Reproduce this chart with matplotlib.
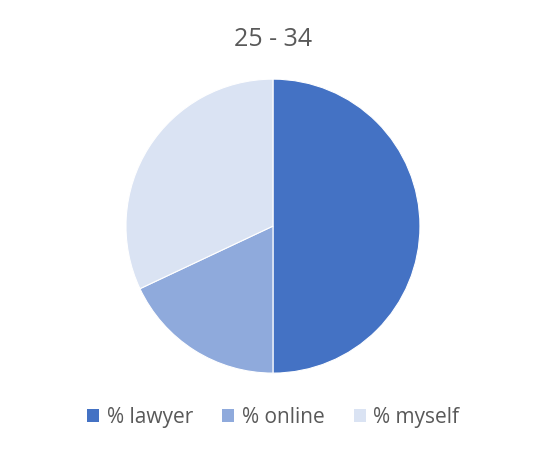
import matplotlib
matplotlib.use("Agg")
import matplotlib.pyplot as plt
from matplotlib.patches import Patch

title = "25 - 34"
labels = ["% lawyer", "% online", "% myself"]
values = [50, 18, 32]
colors = ["#4472C4", "#8FAADC", "#DAE3F3"]

plt.rcParams['font.family'] = ['Open Sans', 'DejaVu Sans']

fig = plt.figure(figsize=(5.43, 4.49), dpi=100)
ax = fig.add_axes([0.232, 0.169, 0.5414, 0.6548])
ax.pie(values, colors=colors, startangle=90, counterclock=False,
       wedgeprops=dict(edgecolor="white", linewidth=0.8))
ax.set_xlim(-1, 1)
ax.set_ylim(-1, 1)
ax.set_aspect("equal")

fig.text(0.503, 0.913, title, ha="center", va="center", fontsize=18, color="#595959")

handles = [Patch(facecolor=c, edgecolor="none") for c in colors]
fig.legend(handles, labels, loc="center", bbox_to_anchor=(0.503, 0.071), ncol=3,
           frameon=False, fontsize=15, handlelength=0.6, handleheight=0.6,
           handletextpad=0.35, columnspacing=1.4, labelcolor="#595959")

fig.savefig("out.png", dpi=100)
